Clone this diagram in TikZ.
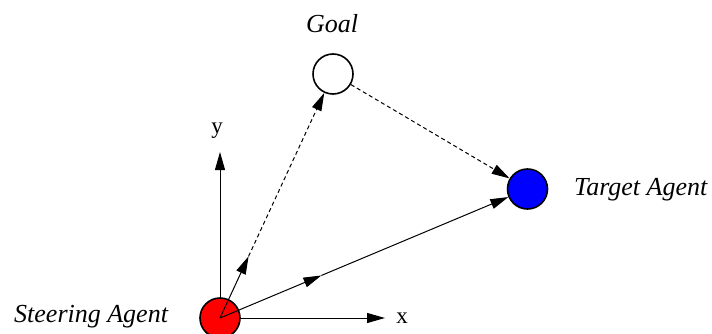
\documentclass[tikz,border=0pt]{standalone}
\usepackage{fontspec}
\setmainfont{Liberation Serif}
\usetikzlibrary{arrows.meta,calc}
\begin{document}
\begin{tikzpicture}[x=1pt,y=1pt,
  agent/.style={circle,draw=black,line width=1.6pt,minimum size=40pt,inner sep=0pt},
  arr/.style={line width=1pt,-{Triangle[length=18pt,width=10pt]}},
  dsh/.style={arr,dash pattern=on 4pt off 3pt},
  lbl/.style={font=\fontsize{26}{29}\selectfont\itshape,inner sep=0pt},
  axl/.style={font=\fontsize{23}{27}\selectfont,inner sep=0pt}]
\useasboundingbox (0,0) rectangle (712,333);
\node[agent,fill=white] (G) at (333,259) {};
\node[agent,fill={rgb,255:red,0;green,0;blue,255}] (T) at (527.5,144) {};
\coordinate (S0) at (220,15);
\coordinate (ytip) at (220,181);
\coordinate (xtip) at (385,15);
\coordinate (vg) at ($(S0)!68pt!(G)$);
\coordinate (vt) at ($(S0)!110pt!(T)$);
\draw[arr] (S0) -- (ytip);
\draw[arr] (S0) -- (xtip);
\node[agent,fill=red] (S) at (S0) {};
\draw[arr] (S0) -- (vg);
\draw[arr] (S0) -- (vt);
\draw[dsh] (vg) -- (G);
\draw[arr] (vt) -- (T);
\draw[dsh] (G) -- (T);
\node[lbl,anchor=base] (gl) at (332,301) {Goal};
\node[lbl,anchor=base west] (tl) at (574,138) {Target Agent};
\node[lbl,anchor=base west] (sl) at (14,11) {Steering Agent};
\node[axl,anchor=base] (yl) at (217,200) {y};
\node[axl,anchor=base] (xl) at (402,10) {x};
\end{tikzpicture}
\end{document}
